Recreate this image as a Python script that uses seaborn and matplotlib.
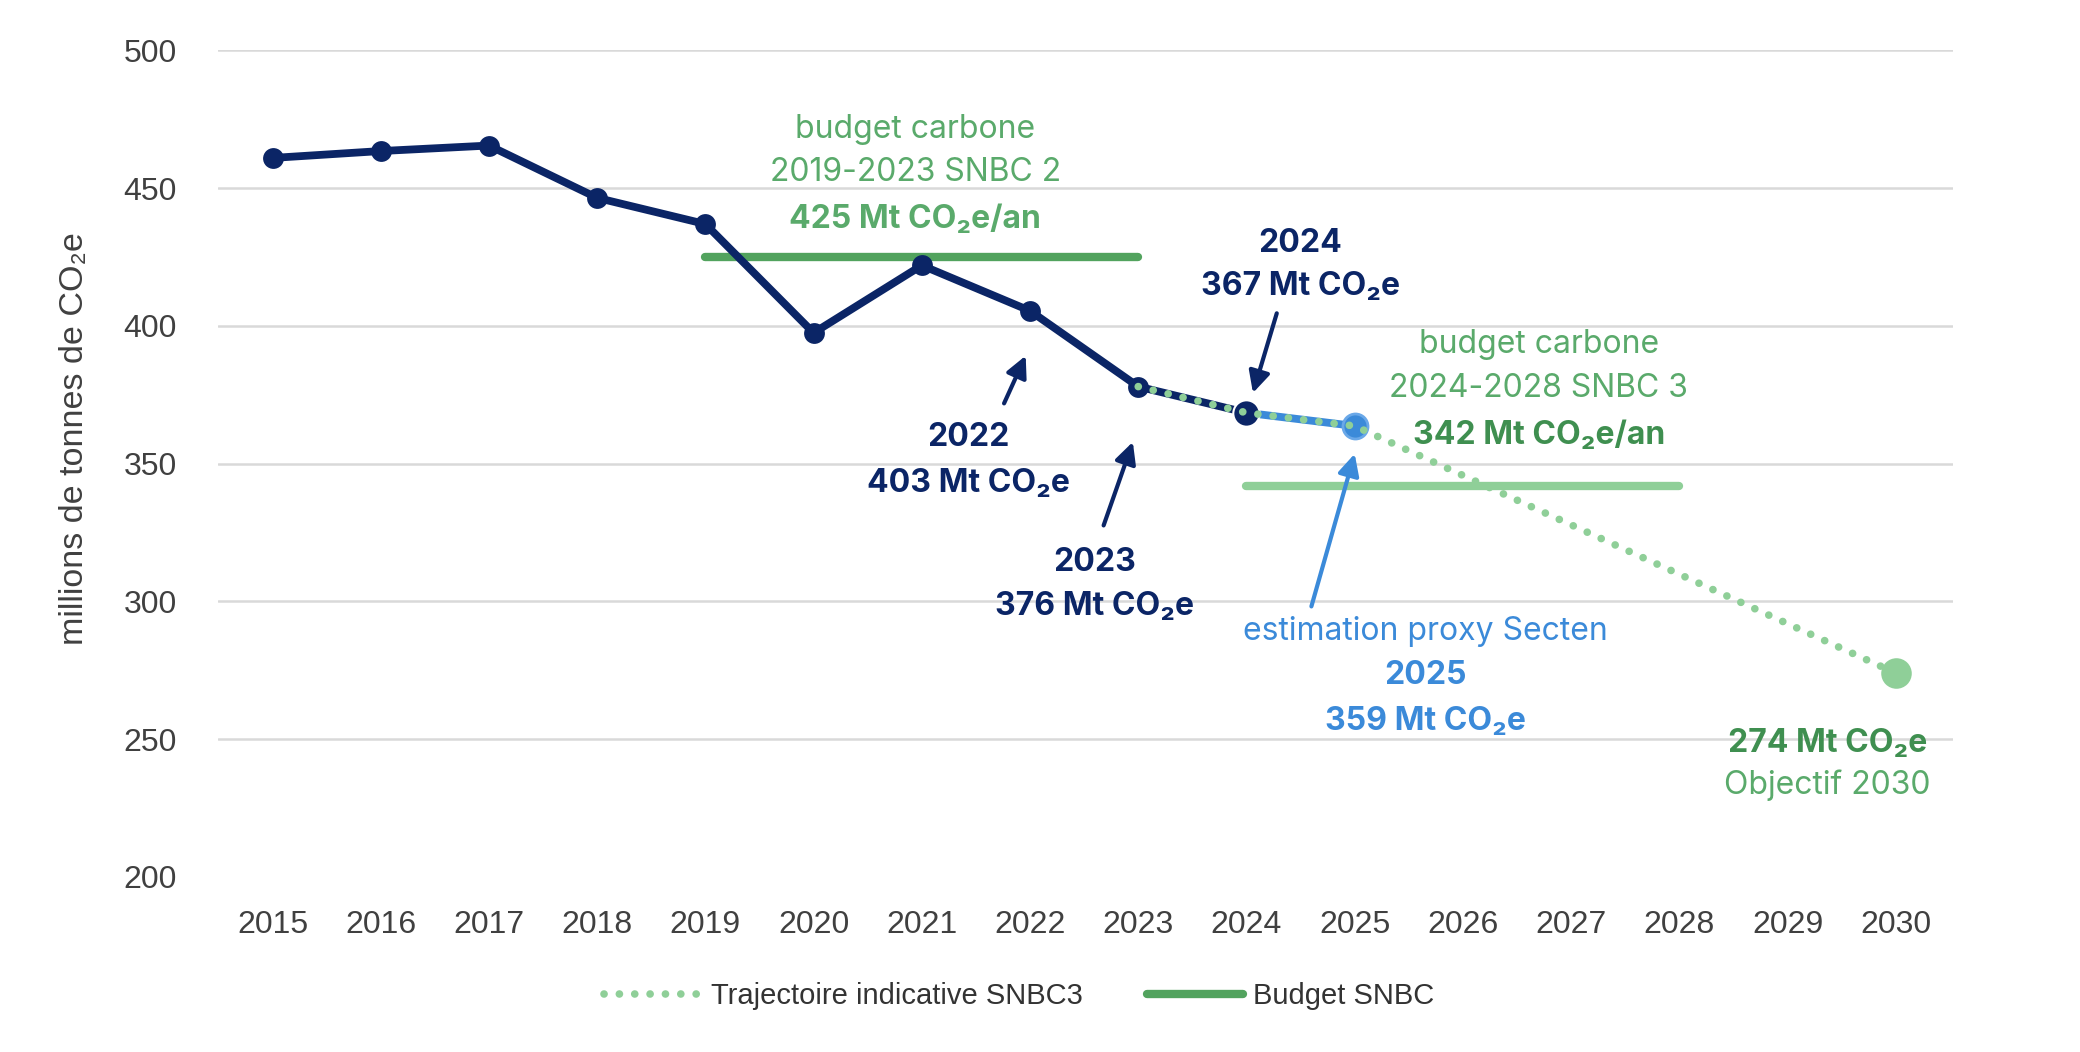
import matplotlib
matplotlib.use("Agg")
import matplotlib.pyplot as plt
import seaborn as sns
from matplotlib.lines import Line2D

# données (Mt CO2e)
years = [2015, 2016, 2017, 2018, 2019, 2020, 2021, 2022, 2023, 2024]
emissions = [461, 463.5, 465.5, 446.5, 437, 397.5, 422, 405.5, 378, 368.5]
proxy_years = [2024, 2025]
proxy_values = [368.5, 363.7]
traj_years = [2023, 2024, 2025, 2030]
traj_values = [378, 368.5, 363.7, 274]
budget2_years = [2019, 2023]
budget2_values = [425, 425]
budget3_years = [2024, 2028]
budget3_values = [342, 342]
xticks = list(range(2015, 2031))

NAVY = "#0b2566"
BLUE = "#3b8ad9"
GREEN = "#52a35e"
LGREEN = "#8fcf98"
TGREEN = "#5aaa6b"
DGREEN = "#3f8f50"
GRAY = "#404040"
DOTS = (0, (0.01, 2.0))

sns.set_theme(style="white")
plt.rcParams["font.family"] = ["Liberation Sans", "DejaVu Sans"]
ANN = ["Inter", "DejaVu Sans"]

fig = plt.figure(figsize=(20.8, 10.52), dpi=100)
ax = fig.add_axes([0.105, 0.1664, 0.834, 0.7856])

sns.lineplot(x=budget2_years, y=budget2_values, color=GREEN, lw=6, ax=ax,
             solid_capstyle="round", zorder=2)
sns.lineplot(x=budget3_years, y=budget3_values, color=LGREEN, lw=6, ax=ax,
             solid_capstyle="round", zorder=2)
sns.lineplot(x=years, y=emissions, color=NAVY, lw=5.6, marker="o", ms=15,
             markeredgewidth=0, ax=ax, zorder=3)
sns.lineplot(x=proxy_years, y=proxy_values, color=BLUE, lw=5.6, ax=ax, zorder=3)
ax.plot([2024], [368.5], "o", ms=19, color=NAVY, mec="white", mew=1.5, zorder=4)
ax.plot([2025], [363.7], "o", ms=18, color=BLUE, mec="#6aa8e8", mew=2, zorder=4)
sns.lineplot(x=traj_years, y=traj_values, color=LGREEN, lw=5.5, ax=ax, zorder=5,
             dashes=False, linestyle=DOTS, dash_capstyle="round")
ax.plot([2030], [274], "o", ms=22, color=LGREEN, mew=0, zorder=5)

ax.set_xlim(2014.5, 2030.53)
ax.set_ylim(200, 500)
ax.set_xticks(xticks)
ax.set_yticks(range(200, 501, 50))
ax.tick_params(axis="x", labelsize=23, colors=GRAY, pad=24, length=0)
ax.tick_params(axis="y", labelsize=23, colors=GRAY, pad=30, length=0)
ax.grid(axis="y", color="#d9d9d9", lw=1.8)
ax.yaxis.get_gridlines()[0].set_visible(False)
for s in ax.spines.values():
    s.set_visible(False)
ax.set_ylabel("millions de tonnes de CO₂e", fontsize=24.5, color=GRAY)
ax.yaxis.set_label_coords(-0.074, 0.531)
ax.set_xlabel("")

def txt(x, y, s, color, bold=False):
    ax.text(x, y, s, ha="center", va="center", fontsize=23, color=color,
            fontweight="bold" if bold else "normal", family=ANN, zorder=6)

txt(2020.94, 471.5, "budget carbone", TGREEN)
txt(2020.94, 455.7, "2019-2023 SNBC 2", TGREEN)
txt(2020.94, 438.8, "425 Mt CO₂e/an", TGREEN, True)
txt(2024.5, 430.1, "2024", NAVY, True)
txt(2024.5, 414.3, "367 Mt CO₂e", NAVY, True)
txt(2026.7, 393.1, "budget carbone", TGREEN)
txt(2026.7, 377.2, "2024-2028 SNBC 3", TGREEN)
txt(2026.7, 360.3, "342 Mt CO₂e/an", DGREEN, True)
txt(2021.43, 359.4, "2022", NAVY, True)
txt(2021.43, 343.0, "403 Mt CO₂e", NAVY, True)
txt(2022.6, 314.1, "2023", NAVY, True)
txt(2022.6, 298.2, "376 Mt CO₂e", NAVY, True)
txt(2025.65, 289.1, "estimation proxy Secten", BLUE)
txt(2025.65, 273.2, "2025", BLUE, True)
txt(2025.65, 256.3, "359 Mt CO₂e", BLUE, True)
txt(2029.37, 248.6, "274 Mt CO₂e", DGREEN, True)
txt(2029.37, 233.2, "Objectif 2030", TGREEN)

def arrow(x0, y0, x1, y1, color):
    ax.annotate("", xy=(x1, y1), xytext=(x0, y0), zorder=6,
                arrowprops=dict(arrowstyle="-|>", color=color, lw=3,
                                mutation_scale=32, shrinkA=0, shrinkB=0))

arrow(2021.76, 371.9, 2021.96, 389.2, NAVY)
arrow(2022.68, 327.6, 2022.95, 357.9, NAVY)
arrow(2024.28, 404.6, 2024.06, 375.7, NAVY)
arrow(2024.6, 298.2, 2025.0, 353.6, BLUE)

handles = [
    Line2D([], [], color=LGREEN, lw=5.5, linestyle=DOTS, dash_capstyle="round"),
    Line2D([], [], color=GREEN, lw=6, solid_capstyle="round"),
]
fig.legend(handles, ["Trajectoire indicative SNBC3", "Budget SNBC"],
           loc="center", bbox_to_anchor=(0.49, 0.053), ncol=2, frameon=False,
           handlelength=3.3, handletextpad=0.35, columnspacing=2.2,
           prop={"family": ["Liberation Sans Narrow", "Liberation Sans"], "size": 21},
           labelcolor="#333333")

fig.savefig("out.png", dpi=100)
